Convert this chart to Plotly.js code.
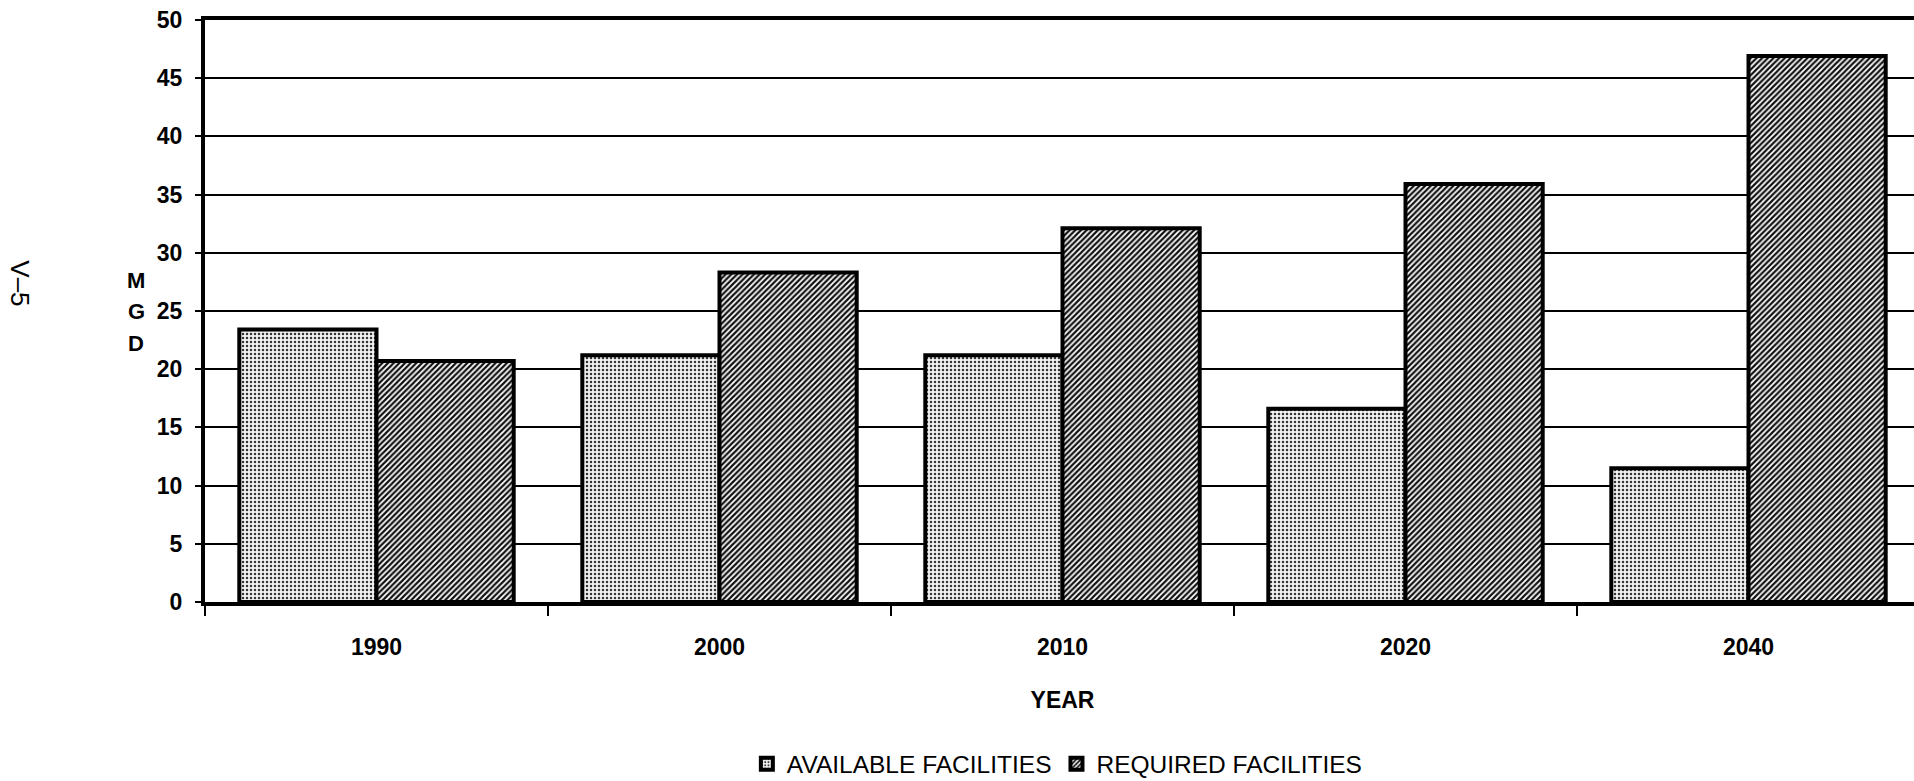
<!DOCTYPE html>
<html>
<head>
<meta charset="utf-8">
<script src="https://cdn.plot.ly/plotly-3.0.1.min.js"></script>
<style>
  html, body { margin: 0; padding: 0; background: #fff; overflow: hidden; }
  #chart { width: 1920px; height: 781px; }
</style>
</head>
<body>
<div id="chart"></div>
<script>
const years = ['1990', '2000', '2010', '2020', '2040'];
const available = [23.4, 21.2, 21.2, 16.6, 11.5];
const required = [20.7, 28.3, 32.1, 35.9, 46.9];
const yTicks = [0, 5, 10, 15, 20, 25, 30, 35, 40, 45, 50];
const seriesNames = ['AVAILABLE FACILITIES', 'REQUIRED FACILITIES'];
const yLetters = ['M', 'G', 'D'];

const FONT = 'Liberation Sans, Arial, sans-serif';

const traces = [
  {
    type: 'bar', name: seriesNames[0], x: years, y: available,
    marker: {
      color: '#ffffff',
      line: { color: '#000', width: 4 },
      pattern: { shape: '.', fgcolor: '#333', bgcolor: '#f2f2f2', size: 4, solidity: 0.3 }
    },
    hoverinfo: 'skip'
  },
  {
    type: 'bar', name: seriesNames[1], x: years, y: required,
    marker: {
      color: '#ffffff',
      line: { color: '#000', width: 4 },
      pattern: { shape: '/', fgcolor: '#111', bgcolor: '#ffffff', size: 4, solidity: 0.55 }
    },
    hoverinfo: 'skip'
  }
];

const letterY = [0.553, 0.5, 0.445];
const annotations = yLetters.map((t, i) => ({
  xref: 'paper', yref: 'paper', x: -0.0402, y: letterY[i], xanchor: 'center', yanchor: 'middle',
  text: '<b>' + t + '</b>', showarrow: false,
  font: { family: FONT, size: 22, color: '#000' }
}));
annotations.push({
  xref: 'paper', yref: 'paper', x: -0.108, y: 0.548, xanchor: 'center', yanchor: 'middle',
  text: 'V–5', textangle: 90, showarrow: false,
  font: { family: FONT, size: 26, color: '#000' }
});

const layout = {
  width: 1920, height: 781, autosize: false,
  margin: { l: 205, r: 0, t: 20, b: 179, autoexpand: false },
  paper_bgcolor: '#fff', plot_bgcolor: '#fff',
  barmode: 'group', bargap: 0.2, bargroupgap: 0,
  showlegend: true,
  legend: {
    orientation: 'h', x: 0.497, xanchor: 'center',
    yref: 'container', y: 0.022, yanchor: 'middle',
    font: { family: FONT, size: 24.5, color: '#000' },
    traceorder: 'normal', itemclick: false
  },
  xaxis: {
    type: 'category', range: [-0.5, 4.5], automargin: false,
    tickson: 'boundaries', ticks: 'outside', ticklen: 10, tickwidth: 2, tickcolor: '#000',
    showline: true, linecolor: '#000', linewidth: 4, mirror: true,
    showgrid: false, zeroline: false,
    tickfont: { family: FONT, size: 23, color: '#000', weight: 'bold' },
    ticklabelstandoff: 21,
    title: { text: '<b>YEAR</b>', font: { family: FONT, size: 23, color: '#000' }, standoff: 34 }
  },
  yaxis: {
    range: [0, 50], tickvals: yTicks, ticktext: yTicks.map(String), automargin: false,
    ticks: 'outside', ticklen: 6, tickwidth: 2, tickcolor: '#000',
    showline: true, linecolor: '#000', linewidth: 4, mirror: true,
    showgrid: true, gridcolor: '#000', gridwidth: 2,
    zeroline: false,
    tickfont: { family: FONT, size: 23, color: '#000', weight: 'bold' },
    ticklabelstandoff: 8
  },
  annotations: annotations
};

Plotly.newPlot('chart', traces, layout, { staticPlot: true, displayModeBar: false });
</script>
</body>
</html>
